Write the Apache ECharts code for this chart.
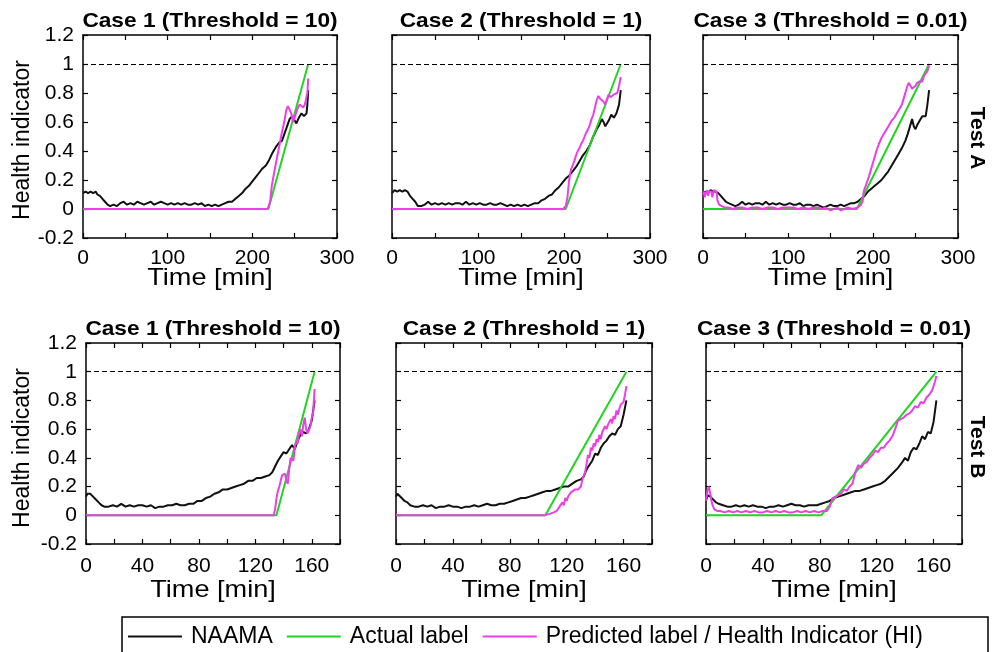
<!DOCTYPE html>
<html>
<head>
<meta charset="utf-8">
<script src="https://cdn.jsdelivr.net/npm/echarts@6/dist/echarts.min.js"></script>
<style>
html,body{margin:0;padding:0;background:#fff;}
#chart{width:1003px;height:652px;}
</style>
</head>
<body>
<div id="chart"></div>
<script>
// ---------- data (time [min], health indicator) ----------
const panelTitles = ['Case 1 (Threshold = 10)', 'Case 2 (Threshold = 1)', 'Case 3 (Threshold = 0.01)',
                     'Case 1 (Threshold = 10)', 'Case 2 (Threshold = 1)', 'Case 3 (Threshold = 0.01)'];
const rowLabels = ['Test A', 'Test B'];
const xAxisTitle = 'Time [min]';
const yAxisTitle = 'Health indicator';
const seriesNames = ['NAAMA', 'Actual label', 'Predicted label / Health Indicator (HI)'];
const xMaxRow = [300, 180];
const xTickStepRow = [50, 20];
const xLabelStepRow = [100, 40];
const xLabelMaxRow = [300, 160];
const yTicks = [-0.2, 0, 0.2, 0.4, 0.6, 0.8, 1, 1.2];
const failureLevel = 1;

// Test A, Case 1
const A1_naama = [[0,0.11],[3,0.12],[6,0.11],[9,0.12],[12,0.11],[15,0.12],[17,0.10],[20,0.09],[23,0.07],[26,0.05],[29,0.03],[32,0.02],[36,0.03],[40,0.02],[44,0.04],[48,0.05],[52,0.03],[56,0.04],[60,0.03],[64,0.05],[68,0.04],[72,0.03],[76,0.04],[80,0.05],[84,0.03],[88,0.04],[92,0.05],[96,0.04],[100,0.03],[104,0.04],[108,0.03],[112,0.04],[116,0.03],[120,0.04],[124,0.03],[128,0.03],[132,0.04],[136,0.03],[140,0.04],[144,0.02],[148,0.03],[152,0.02],[156,0.03],[160,0.02],[164,0.03],[168,0.04],[172,0.05],[176,0.05],[180,0.07],[184,0.09],[188,0.11],[192,0.14],[196,0.16],[200,0.19],[204,0.22],[208,0.25],[212,0.28],[216,0.30],[220,0.34],[224,0.39],[228,0.43],[232,0.46],[235,0.47],[238,0.52],[241,0.57],[244,0.62],[247,0.64],[250,0.61],[252,0.59],[255,0.63],[258,0.66],[261,0.64],[264,0.66],[265,0.72],[266,0.82]];
const A1_actual = [[0,0],[219,0],[266,1]];
const A1_pred = [[0,0],[218,0],[221,0.05],[223,0.16],[226,0.26],[229,0.35],[232,0.44],[235,0.53],[238,0.61],[240,0.68],[242,0.71],[244,0.70],[246,0.66],[248,0.60],[250,0.63],[252,0.67],[254,0.70],[256,0.72],[258,0.71],[260,0.70],[262,0.72],[264,0.71],[265,0.80],[266,0.90]];

// Test A, Case 2
const A2_naama = [[0,0.11],[3,0.13],[6,0.12],[9,0.13],[12,0.12],[15,0.13],[18,0.12],[21,0.09],[24,0.07],[27,0.05],[30,0.02],[34,0.02],[38,0.03],[42,0.05],[46,0.03],[50,0.04],[54,0.03],[58,0.04],[62,0.03],[66,0.04],[70,0.03],[74,0.04],[78,0.04],[82,0.03],[86,0.05],[90,0.03],[94,0.04],[98,0.03],[102,0.04],[106,0.03],[110,0.03],[114,0.04],[118,0.03],[122,0.03],[126,0.04],[130,0.03],[134,0.02],[138,0.03],[142,0.02],[146,0.03],[150,0.02],[154,0.03],[158,0.02],[162,0.03],[166,0.04],[170,0.04],[174,0.06],[178,0.07],[182,0.09],[186,0.10],[190,0.13],[194,0.15],[198,0.18],[202,0.21],[206,0.23],[210,0.26],[214,0.29],[218,0.33],[222,0.37],[226,0.40],[230,0.44],[234,0.50],[238,0.55],[241,0.58],[244,0.62],[246,0.60],[248,0.57],[250,0.58],[252,0.61],[255,0.65],[258,0.63],[261,0.66],[264,0.72],[266,0.82]];
const A2_actual = [[0,0],[202,0],[266,1]];
const A2_pred = [[0,0],[199,0],[202,0.02],[204,0.08],[206,0.20],[208,0.27],[210,0.30],[212,0.33],[214,0.37],[216,0.40],[218,0.42],[220,0.45],[222,0.47],[224,0.50],[226,0.53],[228,0.55],[230,0.58],[232,0.62],[234,0.65],[236,0.70],[238,0.75],[240,0.78],[242,0.76],[244,0.77],[246,0.74],[248,0.72],[250,0.76],[252,0.79],[254,0.77],[256,0.77],[258,0.79],[260,0.78],[262,0.80],[264,0.85],[266,0.91]];

// Test A, Case 3
const A3_naama = [[0,0.11],[3,0.12],[6,0.11],[9,0.13],[12,0.12],[15,0.12],[18,0.11],[21,0.09],[24,0.07],[27,0.05],[30,0.04],[34,0.03],[38,0.02],[42,0.03],[46,0.05],[50,0.03],[54,0.04],[58,0.03],[62,0.04],[66,0.04],[70,0.03],[74,0.05],[78,0.03],[82,0.04],[86,0.03],[90,0.04],[94,0.03],[98,0.03],[102,0.04],[106,0.03],[110,0.03],[114,0.04],[118,0.02],[122,0.03],[126,0.03],[130,0.02],[134,0.03],[138,0.02],[142,0.01],[146,0.02],[150,0.03],[154,0.02],[158,0.02],[162,0.03],[166,0.02],[170,0.03],[174,0.04],[178,0.04],[182,0.05],[186,0.07],[190,0.09],[194,0.12],[198,0.14],[202,0.16],[206,0.18],[210,0.20],[214,0.23],[218,0.26],[222,0.30],[226,0.34],[230,0.38],[234,0.42],[238,0.47],[241,0.52],[244,0.58],[246,0.62],[248,0.57],[250,0.55],[252,0.58],[254,0.60],[256,0.62],[258,0.64],[260,0.63],[262,0.64],[264,0.72],[266,0.82]];
const A3_actual = [[0,0],[181,0],[266,1]];
const A3_pred = [[0,0.10],[1,0.12],[2,0.08],[3,0.12],[4,0.10],[5,0.13],[6,0.09],[7,0.12],[8,0.11],[9,0.13],[10,0.12],[11,0.08],[12,0.11],[13,0.13],[14,0.12],[16,0.12],[17,0.06],[19,0.03],[22,0.02],[26,0.01],[30,0.01],[35,0.00],[40,0.01],[46,0.01],[52,0.00],[58,0.01],[64,0.01],[70,0.00],[76,0.01],[82,0.01],[88,0.00],[94,0.01],[100,0.01],[106,0.01],[112,0.00],[118,0.01],[124,0.00],[130,0.01],[136,0.01],[140,0.00],[144,0.01],[150,-0.01],[154,0.00],[158,0.01],[162,-0.01],[166,0.00],[170,0.01],[176,0.00],[182,0.01],[186,0.03],[188,0.06],[189,0.12],[192,0.17],[195,0.22],[198,0.28],[201,0.34],[204,0.40],[207,0.45],[210,0.49],[213,0.52],[216,0.55],[219,0.58],[222,0.61],[225,0.63],[228,0.66],[231,0.69],[234,0.72],[237,0.78],[240,0.84],[242,0.87],[244,0.86],[246,0.83],[248,0.82],[250,0.85],[252,0.87],[255,0.88],[258,0.88],[260,0.92],[262,0.91],[264,0.95],[266,0.99]];

// Test B, Case 1
const B1_naama = [[0,0.13],[1,0.15],[2,0.16],[3,0.15],[5,0.13],[7,0.11],[9,0.09],[11,0.07],[13,0.06],[16,0.06],[19,0.07],[22,0.06],[25,0.08],[28,0.06],[31,0.07],[34,0.06],[37,0.07],[40,0.07],[43,0.06],[46,0.07],[49,0.05],[52,0.06],[55,0.06],[58,0.07],[61,0.07],[64,0.08],[67,0.07],[70,0.07],[73,0.08],[76,0.08],[79,0.10],[82,0.10],[85,0.12],[88,0.13],[91,0.15],[94,0.16],[97,0.18],[100,0.18],[103,0.19],[106,0.20],[109,0.21],[112,0.22],[115,0.24],[118,0.24],[121,0.26],[124,0.26],[127,0.27],[130,0.28],[132,0.30],[134,0.34],[136,0.38],[138,0.41],[140,0.44],[142,0.43],[144,0.46],[146,0.49],[148,0.46],[150,0.52],[152,0.56],[154,0.58],[156,0.57],[158,0.60],[160,0.66],[162,0.80]];
const B1_actual = [[0,0],[135,0],[162,1]];
const B1_pred = [[0,0],[133,0],[134,0.04],[135,0.12],[136,0.17],[137,0.20],[138,0.24],[139,0.28],[140,0.27],[141,0.29],[142,0.24],[143,0.22],[144,0.32],[145,0.40],[146,0.41],[147,0.38],[148,0.47],[149,0.52],[150,0.50],[151,0.57],[152,0.60],[153,0.55],[154,0.63],[155,0.68],[156,0.60],[157,0.57],[158,0.57],[159,0.62],[160,0.68],[161,0.72],[162,0.88]];

// Test B, Case 2
const B2_naama = [[0,0.13],[1,0.15],[2,0.14],[4,0.12],[6,0.10],[8,0.09],[10,0.07],[13,0.06],[16,0.06],[19,0.07],[22,0.06],[25,0.07],[28,0.05],[31,0.06],[34,0.06],[37,0.07],[40,0.06],[43,0.06],[46,0.05],[49,0.06],[52,0.06],[55,0.07],[58,0.06],[61,0.07],[64,0.08],[67,0.07],[70,0.07],[73,0.08],[76,0.08],[79,0.09],[82,0.10],[85,0.11],[88,0.12],[91,0.12],[94,0.13],[97,0.14],[100,0.15],[103,0.16],[106,0.17],[109,0.17],[112,0.18],[115,0.19],[118,0.20],[121,0.20],[124,0.22],[127,0.24],[130,0.25],[132,0.27],[134,0.32],[136,0.35],[138,0.38],[140,0.43],[142,0.42],[144,0.47],[146,0.50],[148,0.52],[150,0.55],[152,0.57],[154,0.56],[156,0.60],[158,0.62],[160,0.70],[162,0.80]];
const B2_actual = [[0,0],[105,0],[162,1]];
const B2_pred = [[0,0],[104,0],[108,0.01],[111,0.02],[113,0.03],[115,0.06],[117,0.09],[118,0.07],[119,0.12],[120,0.10],[121,0.13],[122,0.12],[123,0.16],[124,0.15],[126,0.18],[128,0.18],[130,0.20],[131,0.25],[132,0.24],[133,0.30],[134,0.36],[135,0.42],[136,0.40],[137,0.47],[138,0.45],[139,0.50],[140,0.48],[141,0.53],[142,0.51],[143,0.56],[144,0.53],[145,0.58],[146,0.57],[147,0.62],[148,0.60],[149,0.63],[150,0.62],[151,0.67],[152,0.64],[153,0.69],[154,0.67],[155,0.73],[156,0.70],[157,0.74],[158,0.77],[159,0.76],[160,0.79],[161,0.84],[162,0.90]];

// Test B, Case 3
const B3_naama = [[0,0.10],[1,0.14],[2,0.15],[3,0.13],[5,0.11],[7,0.09],[9,0.08],[12,0.07],[15,0.06],[18,0.06],[21,0.07],[24,0.06],[27,0.07],[30,0.06],[33,0.07],[36,0.06],[39,0.06],[42,0.05],[45,0.06],[48,0.06],[51,0.07],[54,0.06],[57,0.07],[60,0.08],[63,0.07],[66,0.07],[69,0.06],[72,0.07],[75,0.07],[78,0.07],[81,0.08],[84,0.09],[87,0.10],[90,0.12],[93,0.13],[96,0.14],[99,0.15],[102,0.16],[105,0.17],[108,0.17],[111,0.18],[114,0.19],[117,0.20],[120,0.21],[123,0.22],[126,0.24],[129,0.27],[132,0.30],[135,0.33],[138,0.37],[140,0.40],[142,0.38],[144,0.44],[146,0.47],[148,0.46],[150,0.50],[152,0.55],[154,0.53],[156,0.58],[158,0.57],[160,0.65],[162,0.80]];
const B3_actual = [[0,0],[81,0],[162,1]];
const B3_pred = [[0,0.10],[1,0.17],[2,0.20],[3,0.15],[4,0.09],[5,0.06],[6,0.04],[8,0.03],[10,0.03],[13,0.02],[16,0.03],[19,0.02],[22,0.03],[25,0.02],[28,0.03],[31,0.02],[34,0.03],[37,0.02],[40,0.02],[43,0.03],[46,0.02],[49,0.03],[52,0.02],[55,0.03],[58,0.02],[61,0.02],[64,0.03],[67,0.02],[70,0.03],[73,0.02],[76,0.03],[79,0.02],[82,0.03],[85,0.03],[87,0.06],[89,0.12],[91,0.13],[93,0.14],[95,0.15],[97,0.18],[99,0.17],[101,0.20],[103,0.22],[105,0.30],[107,0.35],[109,0.33],[111,0.36],[113,0.37],[115,0.40],[117,0.42],[119,0.45],[121,0.44],[123,0.47],[125,0.47],[127,0.50],[129,0.52],[131,0.55],[133,0.60],[135,0.66],[137,0.67],[139,0.68],[141,0.70],[143,0.71],[145,0.73],[147,0.76],[149,0.75],[151,0.79],[153,0.78],[155,0.82],[157,0.84],[159,0.87],[161,0.93],[162,0.97]];

const panelNaama  = [A1_naama, A2_naama, A3_naama, B1_naama, B2_naama, B3_naama];
const panelActual = [A1_actual, A2_actual, A3_actual, B1_actual, B2_actual, B3_actual];
const panelPred   = [A1_pred, A2_pred, A3_pred, B1_pred, B2_pred, B3_pred];

// ---------- layout / style ----------
const FONT = '"Liberation Sans", Arial, sans-serif';
const colors = ['#111111', '#22d422', '#ee3ee8'];
const grids = [
  {left: 83,  top: 35,  width: 254, height: 203},
  {left: 392, top: 35,  width: 258, height: 203},
  {left: 703, top: 35,  width: 255, height: 203},
  {left: 86,  top: 343, width: 254, height: 201},
  {left: 396, top: 343, width: 256, height: 201},
  {left: 706, top: 343, width: 256, height: 201}
];
const tickMarginRow = [10, 12];
const xTitleGapRow = [40, 46];

const xAxes = [], yAxes = [], series = [], graphics = [];
grids.forEach((g, i) => {
  const row = i < 3 ? 0 : 1;
  const showY = (i % 3 === 0);
  const axisLine = {show: true, onZero: false, lineStyle: {color: '#000', width: 1.5}};
  const tick = {show: true, inside: true, length: 5, lineStyle: {color: '#000', width: 1.2}};
  xAxes.push({
    type: 'value', gridIndex: i, position: 'bottom', min: 0, max: xMaxRow[row], interval: xTickStepRow[row],
    axisLine, axisTick: tick, splitLine: {show: false},
    axisLabel: {show: true, margin: tickMarginRow[row], fontSize: 21, color: '#000', fontFamily: FONT,
      formatter: v => (v % xLabelStepRow[row] === 0 && v <= xLabelMaxRow[row]) ? String(v) : ''}
  });
  xAxes.push({
    type: 'value', gridIndex: i, position: 'top', min: 0, max: xMaxRow[row], interval: xTickStepRow[row],
    axisLine, axisTick: tick, axisLabel: {show: false}, splitLine: {show: false}
  });
  yAxes.push({
    type: 'value', gridIndex: i, position: 'left', min: yTicks[0], max: yTicks[yTicks.length - 1], interval: 0.2,
    axisLine, axisTick: tick, splitLine: {show: false},
    axisLabel: {show: showY, margin: 9, fontSize: 21, color: '#000', fontFamily: FONT,
      formatter: v => String(Math.round(v * 10) / 10)}
  });
  yAxes.push({
    type: 'value', gridIndex: i, position: 'right', min: yTicks[0], max: yTicks[yTicks.length - 1], interval: 0.2,
    axisLine, axisTick: tick, axisLabel: {show: false}, splitLine: {show: false}
  });
  const data = [panelNaama[i], panelActual[i], panelPred[i]];
  data.forEach((d, k) => {
    const s = {
      type: 'line', name: seriesNames[k], xAxisIndex: 2 * i, yAxisIndex: 2 * i,
      data: d, symbol: 'none', showSymbol: false, animation: false, z: 3 + k,
      lineStyle: {color: colors[k], width: 2}, itemStyle: {color: colors[k]}
    };
    if (k === 1) {
      s.markLine = {
        silent: true, symbol: ['none', 'none'], label: {show: false}, animation: false,
        lineStyle: {type: [5, 3], color: '#000', width: 1},
        data: [{yAxis: failureLevel}]
      };
    }
    series.push(s);
  });
  const cx = g.left + g.width / 2;
  graphics.push({
    type: 'text', x: cx, y: g.top - 14, scaleX: 1.08,
    style: {text: panelTitles[i], font: 'bold 21px ' + FONT, fill: '#000', textAlign: 'center', textVerticalAlign: 'middle'}
  });
  graphics.push({
    type: 'text', x: cx, y: g.top + g.height + xTitleGapRow[row], scaleX: 1.13,
    style: {text: xAxisTitle, font: '24px ' + FONT, fill: '#000', textAlign: 'center', textVerticalAlign: 'middle'}
  });
});

[140, 448].forEach((cy, r) => {
  graphics.push({
    type: 'text', x: 23, y: cy, rotation: Math.PI / 2,
    style: {text: yAxisTitle, font: '23px ' + FONT, fill: '#000', textAlign: 'center', textVerticalAlign: 'middle'}
  });
  graphics.push({
    type: 'text', x: 977, y: r === 0 ? 138 : 447, rotation: -Math.PI / 2,
    style: {text: rowLabels[r], font: 'bold 21px ' + FONT, fill: '#000', textAlign: 'center', textVerticalAlign: 'middle'}
  });
});
graphics.push({
  type: 'rect', shape: {x: 122, y: 617, width: 866, height: 50},
  style: {fill: 'none', stroke: '#000', lineWidth: 1.5}, z: 0
});

const option = {
  backgroundColor: '#fff',
  animation: false,
  grid: grids.map(g => Object.assign({containLabel: false}, g)),
  xAxis: xAxes,
  yAxis: yAxes,
  series: series,
  legend: {
    data: seriesNames, left: 128, top: 625, padding: 0, itemGap: 14,
    itemWidth: 54, itemHeight: 14, icon: 'path://M0,7 L54,7 L54,9 L0,9 Z',
    textStyle: {fontSize: 23, color: '#000', fontFamily: FONT, padding: [0, 0, 0, 4]},
    selectedMode: false
  },
  graphic: graphics
};

const chart = echarts.init(document.getElementById('chart'), null, {renderer: 'canvas'});
chart.setOption(option);
</script>
</body>
</html>
